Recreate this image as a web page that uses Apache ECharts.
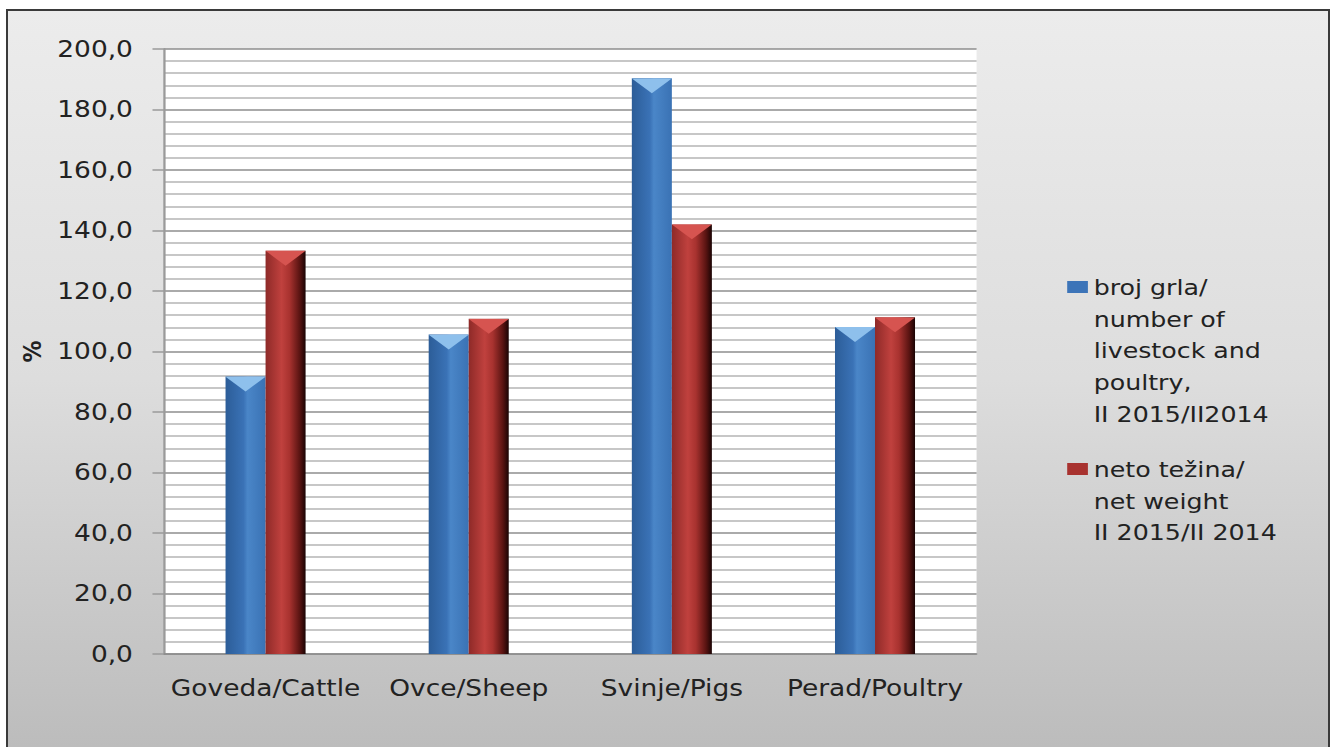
<!DOCTYPE html>
<html><head><meta charset="utf-8">
<script src="https://cdn.jsdelivr.net/npm/echarts@6/dist/echarts.min.js"></script>
<style>
html,body{margin:0;padding:0;width:1330px;height:747px;overflow:hidden;background:#fff;}
#wrap{position:absolute;left:6px;top:9px;width:1324px;height:740px;box-sizing:border-box;border:2px solid #3a3a3a;background:linear-gradient(to bottom,#ececec 0%,#dddddd 50%,#bcbcbc 100%);}
#c{position:absolute;left:0;top:0;width:1156.52px;height:747px;transform:scaleX(1.15);transform-origin:0 0;}
</style></head>
<body>
<div id="wrap"></div>
<div id="c"></div>
<script>
const categories = ['Goveda/Cattle', 'Ovce/Sheep', 'Svinje/Pigs', 'Perad/Poultry'];
const livestockValues = [91.7, 105.6, 190.3, 108.1];
const weightValues = [133.3, 110.8, 142.0, 111.3];
const seriesNames = ['broj grla/\nnumber of\nlivestock and\npoultry,\nII 2015/II2014', 'neto težina/\nnet weight\nII 2015/II 2014'];
const yTicks = [0, 20, 40, 60, 80, 100, 120, 140, 160, 180, 200];

const chart = echarts.init(document.getElementById('c'), null, {renderer: 'svg'});
const font = 'DejaVu Sans, sans-serif';
const blueGrad = new echarts.graphic.LinearGradient(0,0,1,0,[
  {offset:0,color:'#2c5d98'},{offset:0.45,color:'#3a72b6'},{offset:0.55,color:'#4a86c8'},{offset:1,color:'#3a72b4'}]);
const redGrad = new echarts.graphic.LinearGradient(0,0,1,0,[
  {offset:0,color:'#8e2a28'},{offset:0.4,color:'#c0413e'},{offset:0.6,color:'#a8322f'},{offset:0.85,color:'#5a1412'},{offset:1,color:'#1a0404'}]);
const legendIcon = 'path://M0,0H0.01V0.01H0Z M0,9H18V21H0Z M0,158H0.01V158.01H0Z';

chart.setOption({
  animation: false,
  textStyle: {fontFamily: font},
  grid: {left: 142.6, right: 307.8, top: 49, bottom: 93, show: true, backgroundColor: '#ffffff', borderWidth: 0},
  legend: {
    orient: 'vertical', left: 923, top: 267, itemWidth: 18, itemHeight: 158, itemGap: 24,
    icon: legendIcon,
    formatter: name => name === seriesNames[1] ? name + '\n \n ' : name,
    textStyle: {fontSize: 22, color: '#222', lineHeight: 31.6, fontFamily: font},
    data: [{name: seriesNames[0], itemStyle:{color:'#3c74b8'}}, {name: seriesNames[1], itemStyle:{color:'#a8322f'}}]
  },
  xAxis: {
    type: 'category', data: categories,
    axisLine: {lineStyle: {color: '#8c8c8c', width: 1.5}},
    axisTick: {show: false},
    axisLabel: {fontSize: 23, color: '#222', margin: 23, interval: 0, hideOverlap: false, fontFamily: font}
  },
  yAxis: {
    type: 'value', min: 0, max: 200, interval: 20,
    name: '%', nameLocation: 'middle', nameGap: 96, nameRotate: 90,
    nameTextStyle: {fontSize: 22, color: '#222', fontWeight: 'bold', fontFamily: font},
    axisLine: {show: true, lineStyle: {color: '#9a9a9a', width: 2}},
    axisTick: {show: true, length: 10, lineStyle: {color: '#9a9a9a', width: 1.5}},
    axisLabel: {fontSize: 23, color: '#222', margin: 27, fontFamily: font,
      formatter: v => yTicks.includes(v) ? v.toFixed(1).replace('.', ',') : ''},
    splitLine: {lineStyle: {color: '#8e8e8e', width: 1.5}},
    minorTick: {show: false, splitNumber: 5},
    minorSplitLine: {show: true, lineStyle: {color: '#b4b4b4', width: 1.5}}
  },
  series: [
    {name: seriesNames[0], type: 'bar', data: livestockValues, barWidth: 34.8, barGap: '0%',
     itemStyle: {color: blueGrad}, z: 2},
    {name: seriesNames[1], type: 'bar', data: weightValues, barWidth: 34.8, barGap: '0%',
     itemStyle: {color: redGrad}, z: 2},
    {name: 'capA', type: 'pictorialBar', data: livestockValues, symbol: 'triangle', symbolRotate: 180,
     symbolSize: [34.8, 15], symbolPosition: 'end', symbolOffset: [-17.4, 0],
     itemStyle: {color: '#8ec0ec'}, z: 3, silent: true},
    {name: 'capB', type: 'pictorialBar', data: weightValues, symbol: 'triangle', symbolRotate: 180,
     symbolSize: [34.8, 15], symbolPosition: 'end', symbolOffset: [17.4, 0],
     itemStyle: {color: '#d65450'}, z: 3, silent: true}
  ]
});
</script>
</body></html>
